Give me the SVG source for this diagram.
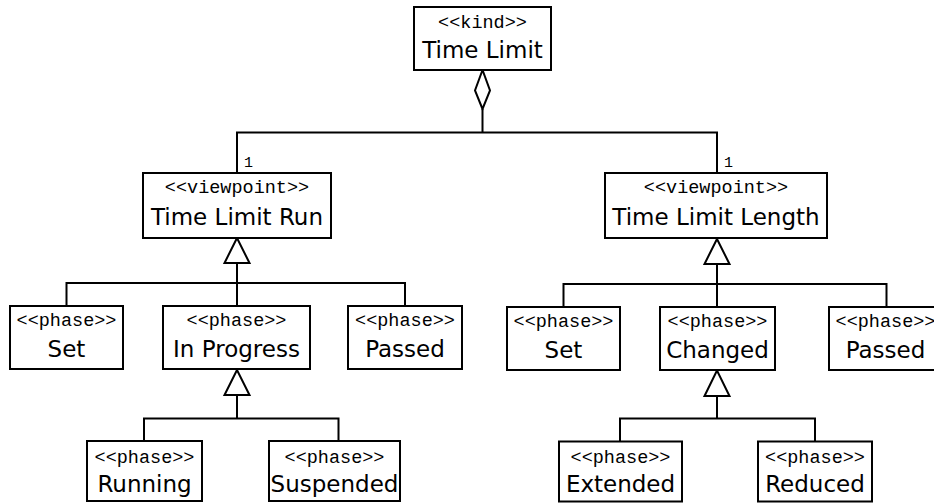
<svg xmlns="http://www.w3.org/2000/svg" width="934" height="504" viewBox="0 0 934 504">
  <style>
    .box { fill: #ffffff; stroke: #000000; stroke-width: 2; }
    .st { font-family: "Liberation Mono", "Courier New", monospace; font-size: 18.5px; fill: #000000; text-anchor: middle; }
    .nm { font-family: "DejaVu Sans", Verdana, sans-serif; font-size: 23px; fill: #000000; text-anchor: middle; }
    .mult { font-family: "Liberation Mono", "Courier New", monospace; font-size: 15px; fill: #000000; }
    .ln { fill: none; stroke: #000000; stroke-width: 2; }
    .head { fill: #ffffff; stroke: #000000; stroke-width: 2; stroke-linejoin: miter; }
  </style>

  <!-- connectors: aggregation and generalization trees -->
  <g id="connectors">
    <!-- aggregation from Time Limit to its viewpoints -->
    <polygon class="head" points="482.5,70 475,90.5 482.5,109 490,90.5"/>
    <polyline class="ln" points="482.5,109 482.5,132.5"/>
    <polyline class="ln" points="237,173 237,132.5 717,132.5 717,173"/>
    <text class="mult" x="244" y="166.5">1</text>
    <text class="mult" x="724" y="166.5">1</text>

    <!-- generalization into Time Limit Run -->
    <polygon class="head" points="237,238 224.5,263 249.5,263"/>
    <polyline class="ln" points="237,263 237,306"/>
    <polyline class="ln" points="66.5,306 66.5,283 405,283 405,306"/>

    <!-- generalization into Time Limit Length -->
    <polygon class="head" points="717,239 704.5,264 729.5,264"/>
    <polyline class="ln" points="717,264 717,307"/>
    <polyline class="ln" points="563.5,307 563.5,284 886.5,284 886.5,307"/>

    <!-- generalization into In Progress -->
    <polygon class="head" points="237,370 224.5,395 249.5,395"/>
    <polyline class="ln" points="237,395 237,418.5"/>
    <polyline class="ln" points="144,441 144,418.5 338.5,418.5 338.5,441"/>

    <!-- generalization into Changed -->
    <polygon class="head" points="717,370.5 704.5,396 729.5,396"/>
    <polyline class="ln" points="717,396 717,418.5"/>
    <polyline class="ln" points="620,441.5 620,418.5 815,418.5 815,441.5"/>
  </g>

  <g id="time-limit">
    <rect class="box" x="414" y="7" width="137" height="63"/>
    <text class="st" x="482.5" y="28">&lt;&lt;kind&gt;&gt;</text>
    <text class="nm" x="482.5" y="58">Time Limit</text>
  </g>

  <g id="time-limit-run">
    <rect class="box" x="143" y="173" width="188" height="65"/>
    <text class="st" x="237" y="193">&lt;&lt;viewpoint&gt;&gt;</text>
    <text class="nm" x="237" y="225">Time Limit Run</text>
  </g>

  <g id="time-limit-length">
    <rect class="box" x="605" y="173" width="222" height="65"/>
    <text class="st" x="716" y="193">&lt;&lt;viewpoint&gt;&gt;</text>
    <text class="nm" x="716" y="225">Time Limit Length</text>
  </g>

  <g id="run-set">
    <rect class="box" x="10" y="306" width="113" height="63"/>
    <text class="st" x="66.5" y="326">&lt;&lt;phase&gt;&gt;</text>
    <text class="nm" x="66.5" y="357">Set</text>
  </g>

  <g id="in-progress">
    <rect class="box" x="163" y="306" width="147" height="63"/>
    <text class="st" x="236.5" y="326">&lt;&lt;phase&gt;&gt;</text>
    <text class="nm" x="236.5" y="357">In Progress</text>
  </g>

  <g id="run-passed">
    <rect class="box" x="348" y="306" width="114" height="63"/>
    <text class="st" x="405" y="326">&lt;&lt;phase&gt;&gt;</text>
    <text class="nm" x="405" y="357">Passed</text>
  </g>

  <g id="length-set">
    <rect class="box" x="507" y="307" width="113" height="63"/>
    <text class="st" x="563.5" y="327">&lt;&lt;phase&gt;&gt;</text>
    <text class="nm" x="563.5" y="358">Set</text>
  </g>

  <g id="changed">
    <rect class="box" x="660" y="307" width="115" height="63"/>
    <text class="st" x="717.5" y="327">&lt;&lt;phase&gt;&gt;</text>
    <text class="nm" x="717.5" y="358">Changed</text>
  </g>

  <g id="length-passed">
    <rect class="box" x="829" y="307" width="113" height="63"/>
    <text class="st" x="885.5" y="327">&lt;&lt;phase&gt;&gt;</text>
    <text class="nm" x="885.5" y="358">Passed</text>
  </g>

  <g id="running">
    <rect class="box" x="87" y="441" width="115" height="60"/>
    <text class="st" x="144.5" y="462.5">&lt;&lt;phase&gt;&gt;</text>
    <text class="nm" x="144.5" y="492">Running</text>
  </g>

  <g id="suspended">
    <rect class="box" x="269" y="441" width="131" height="60"/>
    <text class="st" x="334.5" y="462.5">&lt;&lt;phase&gt;&gt;</text>
    <text class="nm" x="334.5" y="492">Suspended</text>
  </g>

  <g id="extended">
    <rect class="box" x="559" y="441.5" width="123" height="60"/>
    <text class="st" x="620.5" y="463">&lt;&lt;phase&gt;&gt;</text>
    <text class="nm" x="620.5" y="492">Extended</text>
  </g>

  <g id="reduced">
    <rect class="box" x="758" y="441.5" width="114" height="60"/>
    <text class="st" x="815" y="463">&lt;&lt;phase&gt;&gt;</text>
    <text class="nm" x="815" y="492">Reduced</text>
  </g>
</svg>
